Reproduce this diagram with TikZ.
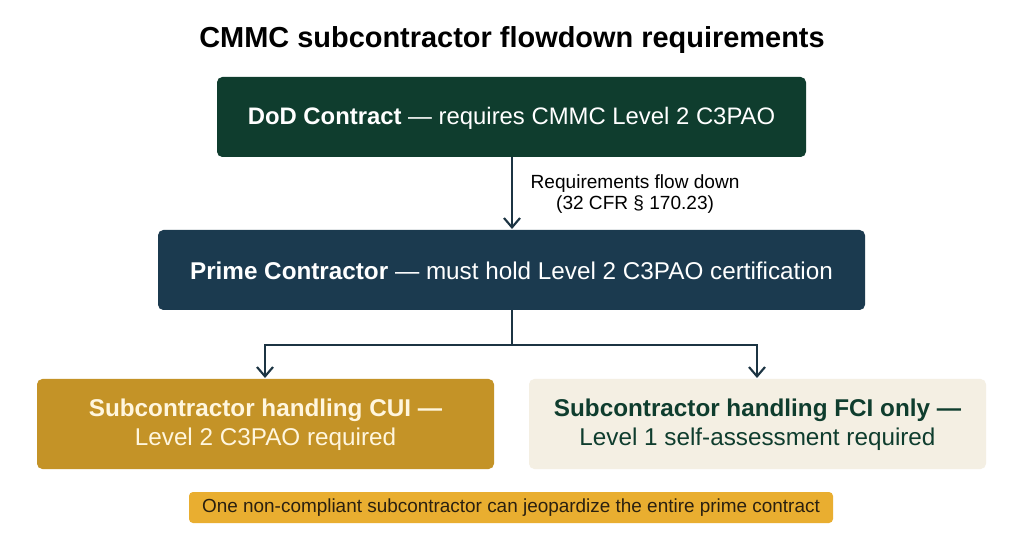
\documentclass[tikz,border=0pt]{standalone}
\usepackage{fontspec}
\setmainfont{Liberation Sans}
\usetikzlibrary{arrows.meta}
\definecolor{dodgreen}{HTML}{0F3D2E}
\definecolor{primeblue}{HTML}{1B3A4F}
\definecolor{cuigold}{HTML}{C49327}
\definecolor{fcicream}{HTML}{F4EFE3}
\definecolor{bannergold}{HTML}{E9AE30}
\definecolor{linecol}{HTML}{1C3443}
\definecolor{cuitext}{HTML}{FFF6DE}
\definecolor{fcitext}{HTML}{0F3D2E}
\definecolor{bannertext}{HTML}{2A2010}
\tikzset{
  box/.style={rounded corners=4pt, inner sep=0pt},
  conn/.style={draw=linecol, line width=1.6pt},
  arr/.style={conn, -{Straight Barb[length=7pt,width=12pt,line width=1.6pt]}},
}
\begin{document}
\begin{tikzpicture}[x=0.75pt,y=-0.75pt]
\useasboundingbox (0,0) rectangle (1024,559);
\fill[white] (0,0) rectangle (1024,559);
% title
\node[font=\bfseries\fontsize{21.7}{26}\selectfont, text=black] (title) at (512,40) {CMMC subcontractor flowdown requirements};
% boxes
\fill[box, dodgreen] (217,77) rectangle (806,157);
\node[text=white, font=\fontsize{17.9}{21}\selectfont] (dod) at (511.5,118) {\textbf{DoD Contract} — requires CMMC Level 2 C3PAO};
\coordinate (dodb) at (512,157);
\fill[box, primeblue] (158,230) rectangle (865,310);
\node[text=white, font=\fontsize{18.2}{21}\selectfont] (prime) at (511.5,271) {\textbf{Prime Contractor} — must hold Level 2 C3PAO certification};
\coordinate (primet) at (512,229);
\coordinate (primeb) at (512,310);
\fill[box, cuigold] (37,379) rectangle (494,469);
\node[text=cuitext, font=\fontsize{18.2}{21}\selectfont, align=center] (cui) at (265.5,425) {\textbf{Subcontractor handling CUI —}\\[1pt]Level 2 C3PAO required};
\coordinate (cuit) at (265,378);
\fill[box, fcicream] (529,379) rectangle (986,469);
\node[text=fcitext, font=\fontsize{18.2}{21}\selectfont, align=center] (fci) at (757.5,425) {\textbf{Subcontractor handling FCI only —}\\[1pt]Level 1 self-assessment required};
\coordinate (fcit) at (757,378);
\fill[rounded corners=3pt, bannergold] (189,492) rectangle (833,523);
\node[text=bannertext, font=\fontsize{14.2}{17}\selectfont] (banner) at (511,508) {One non-compliant subcontractor can jeopardize the entire prime contract};
% connectors
\draw[arr] (dodb) -- (primet);
\node[font=\fontsize{14.3}{16}\selectfont, align=center, anchor=west] (lbl) at (526,194) {Requirements flow down\\(32 CFR § 170.23)};
\coordinate (split) at (512,345);
\draw[conn] (primeb) -- (split);
\draw[arr] (split) -| (cuit);
\draw[arr] (split) -| (fcit);
\end{tikzpicture}
\end{document}
